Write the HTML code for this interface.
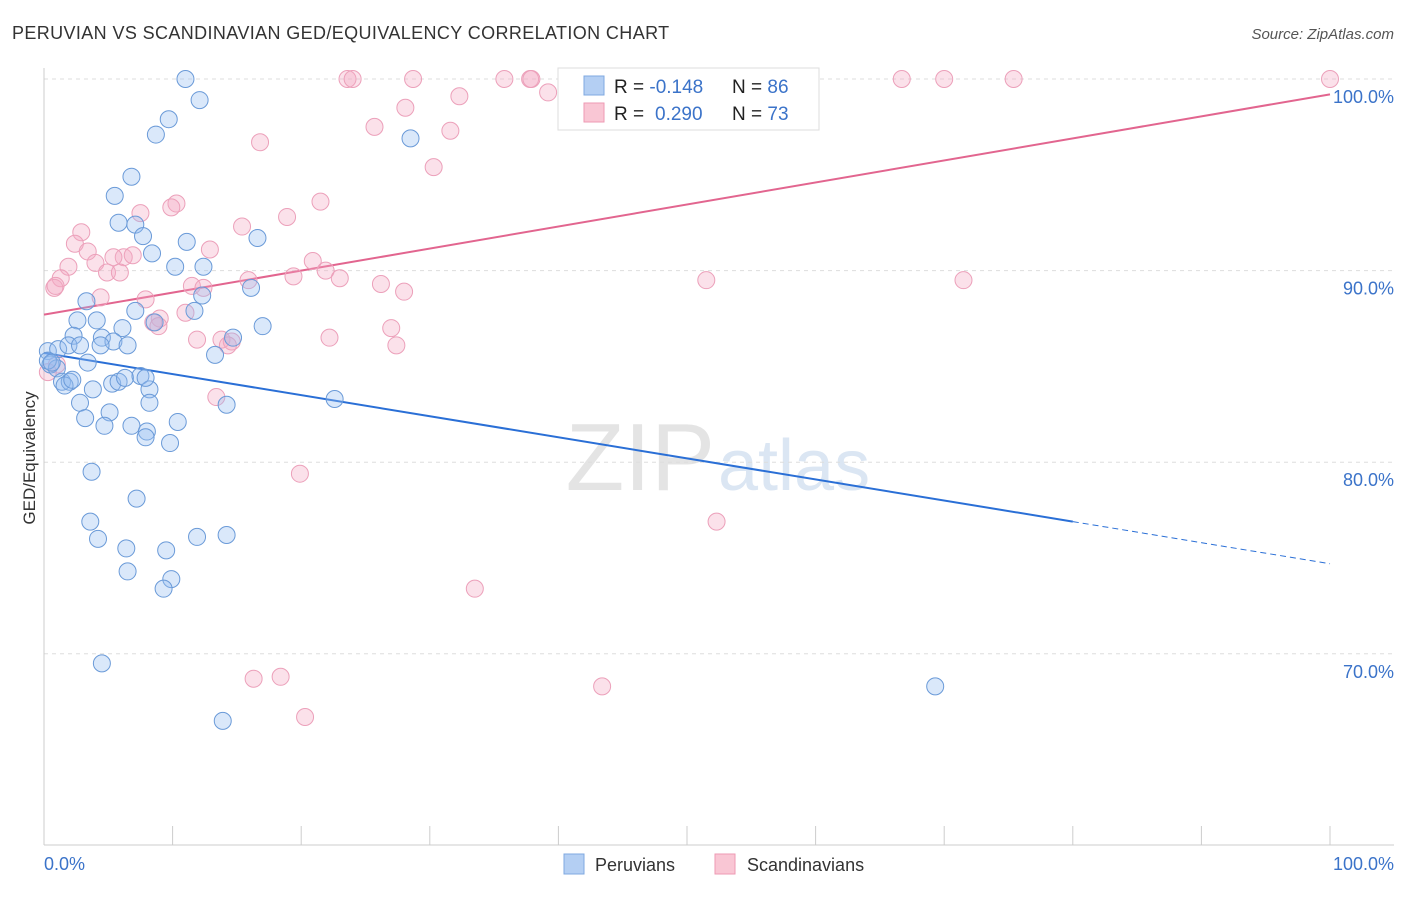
<!DOCTYPE html>
<html><head><meta charset="utf-8"><style>
body{margin:0;background:#fff;font-family:"Liberation Sans",sans-serif;}
svg text{font-family:"Liberation Sans",sans-serif;}
</style></head><body>
<svg id="chart" width="1406" height="892">
<text x="12" y="39" font-size="18" fill="#333" letter-spacing="0.38">PERUVIAN VS SCANDINAVIAN GED/EQUIVALENCY CORRELATION CHART</text>
<text x="1394" y="39" font-size="15" fill="#555" font-style="italic" text-anchor="end">Source: ZipAtlas.com</text>
<text x="715" y="490" font-size="96" fill="#e4e4e4" text-anchor="end" font-family="Liberation Serif">ZIP</text>
<text x="718" y="490" font-size="72" fill="#dbe6f3">atlas</text>
<g id="grid"></g><g id="axes"></g><g id="trends"></g><g id="pts"></g>
<text x="35" y="458" font-size="17" fill="#333" text-anchor="middle" transform="rotate(-90 35 458)">GED/Equivalency</text>
<text x="44" y="870" font-size="18" fill="#3b73c9">0.0%</text>
<text x="1394" y="870" font-size="18" fill="#3b73c9" text-anchor="end">100.0%</text>
<g>
<rect x="558" y="68" width="261" height="62" fill="#fff" stroke="#ddd"/>
<rect x="584" y="76" width="20" height="19" fill="#b4cff3" stroke="#7fa8e0"/>
<rect x="584" y="103" width="20" height="19" fill="#f9c6d4" stroke="#ee9ab3"/>
<text x="614" y="93" font-size="19" fill="#222">R = <tspan fill="#3b73c9">-0.148</tspan><tspan x="732">N = </tspan><tspan fill="#3b73c9">86</tspan></text>
<text x="614" y="120" font-size="19" fill="#222">R = <tspan fill="#3b73c9" x="655">0.290</tspan><tspan x="732">N = </tspan><tspan fill="#3b73c9">73</tspan></text>
</g>
<g>
<rect x="564" y="854" width="20" height="20" fill="#b4cff3" stroke="#7fa8e0"/>
<text x="595" y="871" font-size="18" fill="#333">Peruvians</text>
<rect x="715" y="854" width="20" height="20" fill="#f9c6d4" stroke="#ee9ab3"/>
<text x="747" y="871" font-size="18" fill="#333">Scandinavians</text>
</g>
</svg>
<script>
const yTicks=[100,90,80,70];
const yTickLabels=["100.0%","90.0%","80.0%","70.0%"];
const blueX=[11.0,12.1,9.7,8.7,28.5,6.8,5.5,5.8,7.1,7.7,11.1,16.6,8.4,10.2,12.4,16.1,3.3,12.3,11.7,7.1,2.6,4.1,6.1,17.0,8.6,2.3,4.5,5.4,14.7,0.3,1.1,1.9,2.8,4.4,6.5,13.3,3.4,0.5,1.0,1.4,2.0,1.6,2.2,3.8,5.3,5.8,6.3,7.5,8.2,14.2,8.2,2.8,5.1,3.2,4.7,6.8,8.0,7.9,10.4,9.8,22.6,3.7,7.2,3.6,4.2,6.4,9.5,11.9,14.2,6.5,9.9,9.3,4.5,13.9,69.3,0.3,0.6,7.9];
const blueY=[100,98.9,97.9,97.1,96.9,94.9,93.9,92.5,92.4,91.8,91.5,91.7,90.9,90.2,90.2,89.1,88.4,88.7,87.9,87.9,87.4,87.4,87.0,87.1,87.3,86.6,86.5,86.3,86.5,85.8,85.9,86.1,86.1,86.1,86.1,85.6,85.2,85.1,84.9,84.2,84.2,84.0,84.3,83.8,84.1,84.2,84.4,84.5,83.8,83.0,83.1,83.1,82.6,82.3,81.9,81.9,81.6,81.3,82.1,81.0,83.3,79.5,78.1,76.9,76.0,75.5,75.4,76.1,76.2,74.3,73.9,73.4,69.5,66.5,68.3,85.3,85.2,84.4];
const pinkX=[23.6,24.0,28.7,35.8,37.8,37.9,42.1,47.4,47.9,48.5,66.7,70.0,75.4,100,39.2,32.3,28.1,25.7,31.6,16.8,30.3,10.3,9.9,21.5,7.5,18.9,15.4,2.9,2.4,3.4,12.9,6.2,6.9,5.4,4.0,1.9,20.9,4.9,5.9,1.3,0.8,21.9,19.4,23.0,15.9,26.2,28.0,11.5,12.4,4.4,7.9,11.0,9.0,8.5,8.9,27.0,13.8,14.6,11.9,22.2,27.4,14.3,51.5,71.5,1.0,13.4,19.9,52.3,33.5,16.3,18.4,43.4,20.3,0.3,0.9];
const pinkY=[100,100,100,100,100,100,100,100,100,100,100,100,100,100,99.3,99.1,98.5,97.5,97.3,96.7,95.4,93.5,93.3,93.6,93.0,92.8,92.3,92.0,91.4,91.0,91.1,90.7,90.8,90.7,90.4,90.2,90.5,89.9,89.9,89.6,89.1,90.0,89.7,89.6,89.5,89.3,88.9,89.2,89.1,88.6,88.5,87.8,87.5,87.3,87.1,87.0,86.4,86.3,86.4,86.5,86.1,86.1,89.5,89.5,85.1,83.4,79.4,76.9,73.4,68.7,68.8,68.3,66.7,84.7,89.2];
const blueTrend=[85.7,-0.110]; // intercept, slope
const pinkTrend=[87.7,0.115];
const blueSolidEnd=80;
const NS="http://www.w3.org/2000/svg";
const X0=44,X1=1330,YTOP=79,PX10=191.6;
const sx=v=>X0+(X1-X0)*v/100;
const sy=v=>YTOP+(100-v)*PX10/10;
function mk(tag,attrs,parent){const e=document.createElementNS(NS,tag);for(const k in attrs)e.setAttribute(k,attrs[k]);parent.appendChild(e);return e;}
const grid=document.getElementById('grid'),axes=document.getElementById('axes');
yTicks.forEach((t,i)=>{
 const l=mk('line',{x1:44,x2:1394,y1:sy(t),y2:sy(t),stroke:'#ddd','stroke-dasharray':'4,4'},grid);
 
 
 const tx=mk('text',{x:1394,y:sy(t)+24,'font-size':18,fill:'#3b73c9','text-anchor':'end'},grid);
 tx.textContent=yTickLabels[i];
 
 
});
const ya=mk('line',{x1:44,x2:44,y1:68,y2:845,stroke:'#ccc'},axes);


const xa=mk('line',{x1:44,x2:1394,y1:845,y2:845,stroke:'#ccc'},axes);


for(let i=0;i<=10;i++){
 const tk=mk('line',{x1:sx(i*10),x2:sx(i*10),y1:826,y2:845,stroke:'#ccc'},axes);
 
 
}
const tr=document.getElementById('trends');
const bl=mk('line',{x1:sx(0),y1:sy(blueTrend[0]),x2:sx(blueSolidEnd),y2:sy(blueTrend[0]+blueTrend[1]*blueSolidEnd),stroke:'#2a6fd6','stroke-width':2},tr);


const bd=mk('line',{x1:sx(blueSolidEnd),y1:sy(blueTrend[0]+blueTrend[1]*blueSolidEnd),x2:sx(100),y2:sy(blueTrend[0]+blueTrend[1]*100),stroke:'#2a6fd6','stroke-width':1,'stroke-dasharray':'6,4'},tr);


const pl=mk('line',{x1:sx(0),y1:sy(pinkTrend[0]),x2:sx(100),y2:sy(pinkTrend[0]+pinkTrend[1]*100),stroke:'#e2658f','stroke-width':2},tr);


const pts=document.getElementById('pts');
pinkX.forEach((x,i)=>{
 const c=mk('circle',{cx:sx(x),cy:sy(pinkY[i]),r:8.5,fill:'rgba(244,170,195,0.35)',stroke:'#eca0ba','stroke-width':1},pts);
 
 
});
blueX.forEach((x,i)=>{
 const c=mk('circle',{cx:sx(x),cy:sy(blueY[i]),r:8.5,fill:'rgba(150,190,240,0.35)',stroke:'#6a9ad8','stroke-width':1},pts);
 
 
});
</script>
</body></html>
